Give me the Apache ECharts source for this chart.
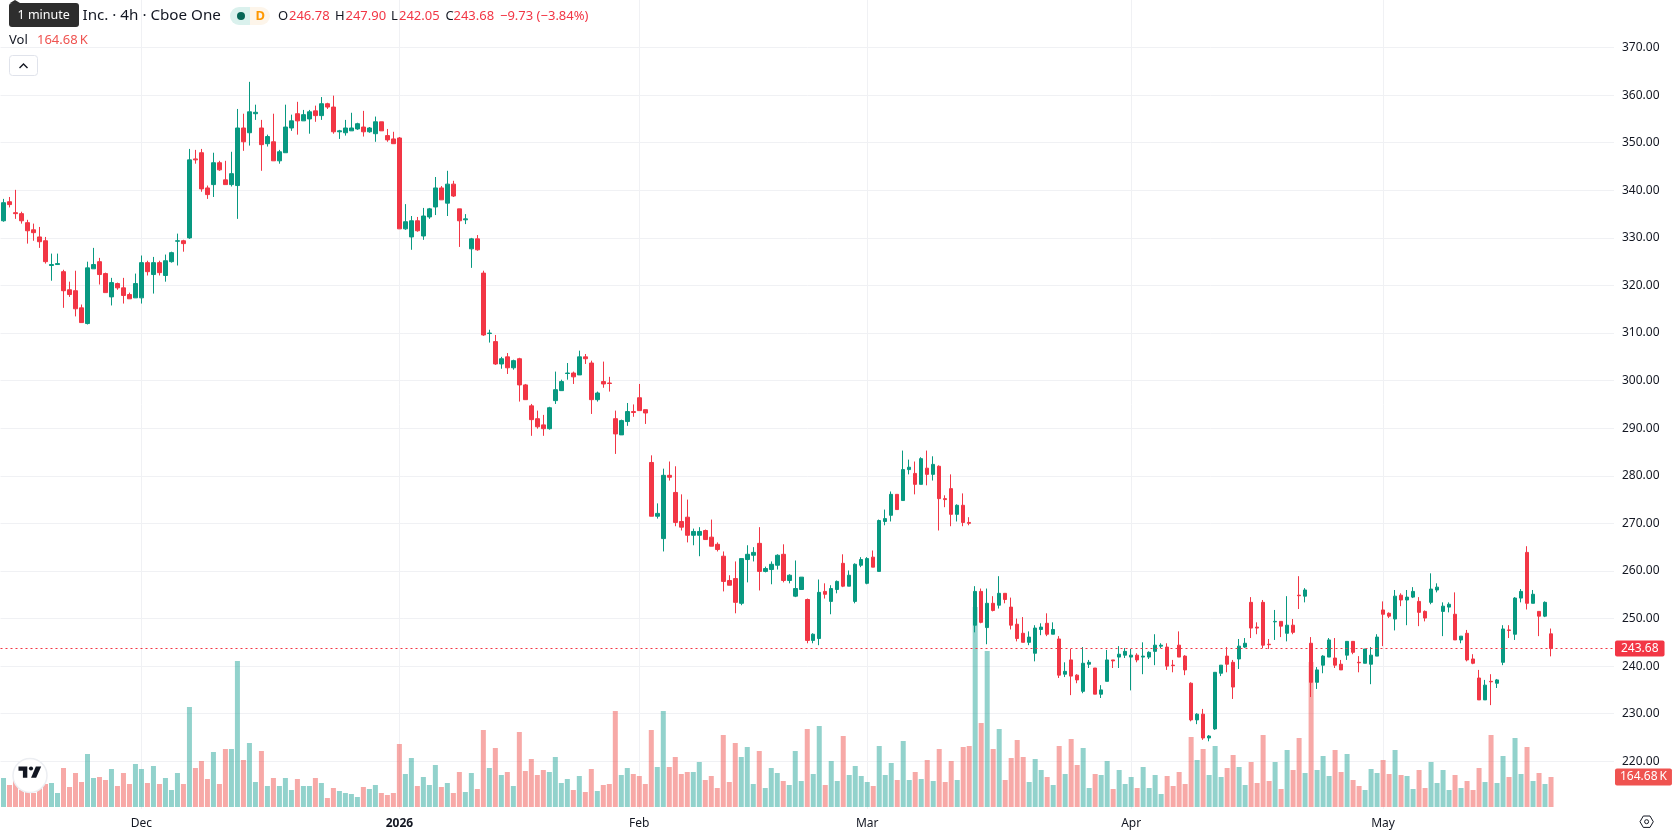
<!DOCTYPE html>
<html>
<head>
<meta charset="utf-8">
<title>Cboe One 4h</title>
<script src="https://cdn.jsdelivr.net/npm/echarts@6/dist/echarts.min.js"></script>
<style>
html,body{margin:0;padding:0;background:#fff;overflow:hidden}
#chart{width:1678px;height:835px}
</style>
</head>
<body>
<div id="chart"></div>
<script>
// Session prices, one entry per 4h bar
const opens = [
333.6,337.6,335.3,335.1,333.2,331.7,330.2,329.4,324.2,324.4,
322.9,319.1,318.9,315.3,312.0,323.5,325.0,322.5,317.6,320.4,
319.5,318.1,317.4,317.4,324.8,322.3,324.8,322.1,325.0,329.3,
329.4,330.0,346.6,347.9,340.5,341.2,345.8,342.2,341.2,341.0,
353.1,352.1,356.1,353.1,349.8,350.2,346.2,347.9,353.1,356.1,
354.6,355.0,356.7,355.7,358.2,357.5,352.3,352.1,352.5,352.9,
353.3,352.3,351.9,354.4,351.5,350.8,351.0,331.9,330.2,333.6,
330.4,334.4,336.5,340.5,337.3,341.3,336.1,333.8,327.7,329.8,
322.6,309.9,308.2,303.5,305.0,302.7,304.6,299.1,294.7,292.0,
290.7,289.9,295.8,297.9,301.5,301.6,301.2,305.0,303.7,296.0,
299.8,299.5,292.0,288.6,291.4,293.5,296.4,293.9,282.8,271.5,
266.8,280.1,276.5,270.4,271.3,267.5,267.5,268.5,267.1,265.6,
263.1,258.0,258.4,253.2,262.4,263.3,265.8,259.9,260.3,261.2,
263.5,258.0,254.7,256.1,254.0,245.4,245.8,255.7,253.6,256.1,
261.6,256.8,253.6,261.2,257.4,262.9,259.9,270.4,271.7,276.1,
274.8,281.3,280.5,278.2,281.6,280.3,282.0,275.2,277.3,271.9,
273.8,270.2,248.6,255.7,248.1,253.2,252.8,255.3,252.4,248.8,
246.9,245.0,242.7,247.7,249.0,246.7,245.7,238.3,241.3,238.1,
234.7,240.4,239.6,234.1,236.8,241.3,241.9,242.3,241.9,242.3,
241.9,241.9,243.1,244.2,244.0,240.2,244.4,242.1,236.4,228.7,
229.9,224.9,226.8,238.5,242.1,240.8,241.5,244.0,253.4,248.2,
253.4,244.6,249.3,249.4,246.9,248.6,254.9,254.7,244.8,236.6,
240.2,241.9,241.7,240.4,242.3,245.2,240.8,240.6,240.4,242.1,
251.8,251.1,249.9,254.9,253.9,254.5,253.6,251.5,253.4,256.0,
251.5,252.4,250.9,245.5,246.9,241.5,237.5,232.9,236.8,236.4,
240.8,247.6,246.7,254.3,263.9,253.2,251.5,250.5,246.78
];
const closes = [
337.4,337.0,335.1,333.6,331.5,331.1,329.2,325.0,324.4,324.6,
318.9,318.1,315.1,312.2,323.7,324.4,322.3,318.5,320.6,319.5,
317.9,317.2,320.4,324.8,322.9,324.8,322.7,325.2,326.9,329.4,
328.8,346.4,346.4,340.3,339.1,345.8,344.3,341.2,343.5,353.1,
350.2,356.5,356.4,349.6,351.3,346.2,348.1,353.3,354.6,354.6,
355.9,356.5,355.7,358.2,357.5,352.3,352.5,353.1,353.1,354.0,
352.3,353.1,354.4,352.5,350.6,349.8,331.9,333.4,333.6,331.5,
334.6,336.1,340.5,338.0,341.3,338.8,333.6,334.0,329.8,327.5,
309.6,310.0,303.5,304.6,302.7,304.2,299.1,296.0,291.8,290.3,
289.9,294.3,298.1,299.8,301.6,300.8,305.0,304.6,296.0,297.4,
299.3,299.4,288.8,291.6,293.5,293.3,293.7,293.2,271.5,272.1,
280.1,279.7,270.2,269.2,267.5,268.3,268.3,266.6,265.2,264.5,
257.8,257.0,253.4,262.6,263.5,263.9,259.9,260.5,261.4,263.3,
258.0,259.1,256.3,258.7,245.4,246.7,255.5,255.1,256.3,257.8,
256.8,259.1,261.4,262.4,262.6,260.8,270.6,271.0,276.1,272.9,
281.3,281.8,278.2,283.6,280.3,282.4,275.2,275.0,271.9,273.8,
270.2,270.0,255.7,249.2,253.2,251.7,255.3,254.0,248.6,245.8,
245.0,246.1,248.0,248.2,246.7,247.7,238.1,238.9,237.9,237.1,
240.6,240.8,234.1,235.0,241.3,241.1,242.5,243.1,242.3,241.3,
242.1,242.9,244.4,244.4,240.0,240.1,241.9,239.2,228.7,229.9,
224.9,225.3,238.7,240.2,240.4,235.6,244.2,244.8,248.0,248.0,
244.4,244.5,249.4,248.4,248.6,247.1,254.8,256.0,236.6,239.2,
242.1,245.5,240.2,239.2,245.2,242.9,240.7,243.6,242.3,246.1,
250.9,250.5,254.7,253.9,254.5,255.7,251.3,250.1,256.2,256.6,
252.6,253.0,245.5,246.3,241.3,240.6,232.9,236.0,236.7,237.1,
247.8,247.5,254.3,255.7,253.2,255.1,250.5,253.4,243.68
];
const highs = [
338.2,338.6,340.1,335.5,333.8,333.0,332.3,330.2,326.7,326.7,
323.3,320.8,323.1,316.0,325.0,327.9,325.8,322.7,321.6,320.6,
321.6,318.5,322.5,326.3,325.2,326.0,325.2,326.5,327.1,330.9,
329.6,348.7,348.5,348.7,341.0,347.9,346.2,346.2,348.1,357.1,
356.1,362.8,358.0,354.8,351.7,356.1,348.5,358.0,355.9,358.6,
356.9,356.9,357.8,359.6,358.4,359.9,352.7,354.8,356.3,354.2,
356.7,353.3,355.5,354.4,352.9,352.3,351.2,337.1,334.6,334.4,
336.3,336.3,342.8,340.9,344.1,342.0,336.1,335.0,330.0,330.6,
323.1,310.7,309.6,305.0,305.8,304.4,304.8,299.3,295.1,293.7,
292.8,294.5,301.9,300.2,303.7,301.9,306.3,305.6,304.2,297.7,
304.0,300.8,293.7,291.8,295.3,295.0,299.3,293.9,284.3,274.2,
281.5,283.0,282.0,276.1,275.0,268.9,269.2,268.7,270.8,266.0,
264.1,259.1,262.0,262.6,265.4,265.0,269.2,260.9,262.0,263.5,
265.6,259.3,262.2,258.7,254.2,246.9,258.2,257.4,257.0,258.0,
263.5,260.1,261.6,262.9,262.9,264.3,270.8,272.9,276.7,276.1,
285.3,283.4,283.0,283.9,285.3,284.1,282.2,275.9,280.3,274.0,
276.3,271.3,256.8,256.3,256.3,254.7,258.9,255.3,254.4,250.0,
250.3,247.3,248.6,249.0,251.1,249.2,246.3,240.8,243.6,238.3,
244.0,241.3,239.6,236.0,243.4,241.3,244.2,243.8,243.6,242.7,
245.0,243.1,246.7,244.8,244.8,241.3,247.3,242.3,236.6,230.1,
231.0,225.5,238.7,240.2,244.0,241.3,245.7,245.9,254.5,249.2,
253.9,245.7,251.8,249.4,254.7,249.9,258.9,256.4,246.1,239.8,
242.3,245.9,245.9,241.3,245.2,245.2,242.1,243.6,244.0,246.7,
253.6,251.3,256.0,255.3,256.0,256.6,254.5,251.7,259.5,257.4,
253.4,253.4,255.5,246.3,247.6,242.5,239.2,237.1,238.3,237.3,
248.6,248.6,254.5,256.2,265.2,256.0,251.5,253.6,247.90
];
const lows = [
333.4,336.4,334.0,333.0,328.8,329.4,327.9,324.6,321.0,324.4,
315.3,317.6,313.5,312.2,311.8,323.5,320.2,318.5,315.8,319.1,
316.2,317.2,317.4,316.2,322.1,318.3,322.1,320.8,324.8,324.2,
327.1,329.8,345.6,339.7,338.2,338.6,344.1,341.2,340.8,334.0,
348.3,349.4,354.8,344.1,349.2,346.2,345.6,347.9,352.5,351.7,
354.6,351.9,354.4,354.8,357.1,351.9,350.8,351.5,352.5,352.7,
351.3,352.1,350.2,352.5,350.2,349.8,331.9,331.7,327.5,331.3,
329.6,334.0,334.8,338.0,334.6,338.6,328.1,332.9,323.7,327.3,
309.4,308.0,303.3,302.5,301.4,302.3,295.6,296.0,288.4,289.9,
288.4,289.7,295.1,297.9,300.2,299.3,301.2,303.5,293.0,295.6,
298.5,297.7,284.6,288.6,290.5,292.4,293.7,290.9,271.5,271.0,
264.1,279.0,269.4,268.5,266.0,265.4,263.1,266.6,265.2,264.1,
255.7,257.0,251.1,252.8,257.6,262.0,255.9,259.7,257.2,260.3,
257.6,257.4,254.5,256.1,244.8,244.8,244.4,254.2,250.9,255.3,
256.6,256.8,253.2,260.8,257.2,260.8,259.9,269.6,270.4,272.9,
274.8,280.3,276.1,278.2,278.0,279.0,268.5,273.4,269.4,270.4,
269.4,269.6,247.1,249.0,244.6,251.5,252.1,253.2,247.7,245.2,
245.0,244.4,241.0,246.5,246.3,246.7,237.5,237.7,233.9,236.4,
234.3,239.6,234.1,233.3,236.8,239.6,239.6,241.7,234.9,240.8,
238.3,241.5,240.2,243.8,239.2,238.7,241.9,238.1,228.4,227.8,
224.5,224.2,226.6,237.9,238.7,233.1,239.4,243.8,245.9,246.7,
243.8,243.6,245.5,246.1,245.2,246.7,252.0,253.4,233.5,235.2,
238.5,241.9,239.6,239.2,241.3,242.5,238.7,240.6,236.2,242.1,
244.2,250.1,247.5,252.6,248.6,254.3,248.4,249.4,253.0,255.5,
246.3,251.3,245.5,244.8,241.0,240.4,232.9,232.9,231.8,235.4,
240.2,245.9,245.5,253.4,251.9,253.2,246.3,250.3,242.05
];
// Traded volume per bar, in thousands of shares
const volumes = [
159.2,120.8,148.2,93.3,82.4,76.9,109.8,126.3,131.8,76.9,
214.1,109.8,186.7,137.3,291.0,159.2,164.7,148.2,208.6,115.3,
186.7,126.3,236.1,208.6,131.8,225.1,126.3,159.2,93.3,186.7,
126.3,549.0,214.1,252.5,153.7,302.0,126.3,318.4,318.4,801.5,
258.0,351.4,137.3,307.4,115.3,159.2,115.3,159.2,93.3,153.7,
115.3,115.3,159.2,131.8,49.4,104.3,87.8,76.9,71.4,54.9,
109.8,98.8,120.8,76.9,65.9,76.9,345.9,181.2,269.0,115.3,
164.7,120.8,230.6,109.8,131.8,76.9,192.2,82.4,186.7,98.8,
422.7,214.1,323.9,175.7,192.2,115.3,411.8,197.6,263.5,175.7,
203.1,192.2,274.5,131.8,153.7,93.3,170.2,82.4,208.6,87.8,
120.8,126.3,527.0,175.7,214.1,181.2,170.2,126.3,422.7,219.6,
527.0,219.6,274.5,181.2,192.2,192.2,247.1,148.2,170.2,104.3,
395.3,137.3,351.4,274.5,329.4,126.3,307.4,104.3,214.1,186.7,
142.7,120.8,307.4,142.7,428.2,181.2,444.7,120.8,252.5,142.7,
389.8,175.7,225.1,170.2,137.3,115.3,334.9,175.7,241.6,148.2,
362.3,148.2,192.2,153.7,258.0,142.7,318.4,137.3,252.5,148.2,
329.4,334.9,1098.0,461.2,856.4,318.4,428.2,148.2,269.0,367.8,
274.5,137.3,263.5,203.1,164.7,120.8,334.9,181.2,373.3,230.6,
323.9,104.3,181.2,175.7,252.5,98.8,203.1,126.3,164.7,104.3,
219.6,104.3,175.7,71.4,170.2,115.3,192.2,126.3,384.3,258.0,
318.4,175.7,334.9,164.7,214.1,285.5,219.6,120.8,247.1,131.8,
395.3,142.7,247.1,98.8,312.9,203.1,378.8,186.7,796.0,203.1,
280.0,170.2,312.9,192.2,291.0,148.2,115.3,93.3,208.6,186.7,
258.0,181.2,312.9,175.7,170.2,98.8,203.1,104.3,247.1,131.8,
203.1,93.3,175.7,104.3,142.7,93.3,214.1,137.3,395.3,131.8,
280.0,164.7,378.8,181.2,329.4,142.7,186.7,126.3,164.68
];
// Time-scale labels, keyed by the bar they sit on
const timeLabelBars = [23, 66, 106, 144, 188, 230];
const timeLabelTexts = ['Dec', '2026', 'Feb', 'Mar', 'Apr', 'May'];
const emptyBarsOnRight = 10;
const lastPrice = 243.68;
const lastVolume = 164.68;
const priceMin = 210, priceMax = 380, priceStep = 10;
const volumeAxisMax = 4430;

const UP = '#089981', DOWN = '#F23645';
const VOL_UP = '#26a69a', VOL_DOWN = '#ef5350';
const GRID_LINE = '#f0f1f4';
const TEXT = '#131722';
const FONT = '"Noto Sans", sans-serif';

const barCount = opens.length + emptyBarsOnRight;
const categories = Array.from({length: barCount}, (_, i) => {
  const at = timeLabelBars.indexOf(i);
  return at >= 0 ? timeLabelTexts[at] : 'bar' + i;
});
const isTimeLabel = (index) => timeLabelBars.includes(index);

const candleData = opens.map((o, i) => [o, closes[i], lows[i], highs[i]]);
const volumeData = volumes.map((v, i) => ({
  value: v,
  itemStyle: {color: closes[i] >= opens[i] ? VOL_UP : VOL_DOWN, opacity: 0.5}
}));

const txt = (x, y, text, fill, size, extra) => ({
  type: 'text', x, y, z: 50, silent: true,
  style: Object.assign({text, fill, font: `${size || 13}px ${FONT}`, verticalAlign: 'middle'}, extra || {})
});

const header = [
  txt(82.5, 16, 'Inc. · 4h · Cboe One', TEXT, 15.2),
  {type: 'rect', z: 50, silent: true, shape: {x: 230, y: 7, width: 20, height: 18, r: [9, 0, 0, 9]}, style: {fill: '#daf1ed'}},
  {type: 'rect', z: 50, silent: true, shape: {x: 250, y: 7, width: 20, height: 18, r: [0, 9, 9, 0]}, style: {fill: '#fdf5ea'}},
  {type: 'circle', z: 51, silent: true, shape: {cx: 241, cy: 16, r: 4}, style: {fill: '#056656'}},
  txt(255.5, 16.5, 'D', '#ff9800', 13, {font: `bold 13px ${FONT}`}),
  txt(278, 16.5, 'O', TEXT), txt(289, 16.5, '246.78', DOWN),
  txt(335, 16.5, 'H', TEXT), txt(345.5, 16.5, '247.90', DOWN),
  txt(391, 16.5, 'L', TEXT), txt(399, 16.5, '242.05', DOWN),
  txt(445.5, 16.5, 'C', TEXT), txt(453.5, 16.5, '243.68', DOWN),
  txt(500, 16.5, '−9.73 (−3.84%)', DOWN),
  txt(9, 40.5, 'Vol', TEXT),
  txt(37, 40.5, '164.68\u2009K', VOL_DOWN),
  {type: 'rect', z: 50, silent: true, shape: {x: 9.5, y: 55.5, width: 28, height: 20, r: 3}, style: {fill: '#fff', stroke: '#e0e3eb', lineWidth: 1}},
  {type: 'polyline', z: 51, silent: true, shape: {points: [[19.5, 68], [23.5, 64], [27.5, 68]]}, style: {stroke: TEXT, lineWidth: 1.4, fill: null}},
  {type: 'polygon', z: 52, silent: true, shape: {points: [[10, 3], [15, 0], [20, 3]]}, style: {fill: '#2e2e2e'}},
  {type: 'rect', z: 52, silent: true, shape: {x: 9, y: 3, width: 70, height: 24, r: 3}, style: {fill: '#2e2e2e'}},
  Object.assign(txt(17.5, 15.5, '1 minute', '#ffffff', 12.5), {z: 53})
];

// Round badge with the platform's mark, composed of two polygons and a dot
const logoPoint = (px, py) => [18.5 + px * 0.63, 762 + py * 0.63];
const branding = [
  {type: 'circle', z: 50, silent: true, shape: {cx: 30, cy: 775.5, r: 17}, style: {fill: '#fff', stroke: '#eceef2', lineWidth: 1.5}},
  {type: 'polygon', z: 51, silent: true,
    shape: {points: [[0, 7], [14, 7], [14, 25], [7, 25], [7, 14], [0, 14]].map(p => logoPoint(p[0], p[1]))}, style: {fill: '#131722'}},
  {type: 'polygon', z: 51, silent: true,
    shape: {points: [[20, 25], [27.5, 7], [36, 7], [28, 25]].map(p => logoPoint(p[0], p[1]))}, style: {fill: '#131722'}},
  {type: 'circle', z: 51, silent: true, shape: {cx: 31, cy: 768.5, r: 2.1}, style: {fill: '#131722'}}
];

const settingsIcon = [
  {type: 'polygon', z: 50, silent: true,
    shape: {points: [[1640, 821.7], [1643.3, 816], [1650, 816], [1653.3, 821.7], [1650, 827.4], [1643.3, 827.4]]},
    style: {fill: 'none', stroke: TEXT, lineWidth: 1}},
  {type: 'circle', z: 50, silent: true, shape: {cx: 1646.6, cy: 821.7, r: 2}, style: {fill: 'none', stroke: TEXT, lineWidth: 1}}
];

const chart = echarts.init(document.getElementById('chart'), null, {renderer: 'canvas'});
chart.setOption({
  animation: false,
  backgroundColor: '#ffffff',
  textStyle: {fontFamily: FONT},
  graphic: {elements: [...header, ...branding, ...settingsIcon]},
  grid: [
    {left: 0.5, width: 1614 - 0.5, top: -1.15, height: 810, containLabel: false},
    {left: 0.5, width: 1614 - 0.5, top: 0, height: 807, containLabel: false}
  ],
  xAxis: [
    {
      type: 'category', gridIndex: 0, data: categories, boundaryGap: true,
      axisLine: {show: false},
      axisTick: {show: false},
      axisLabel: {
        show: true, interval: isTimeLabel, margin: 9, fontSize: 12, color: TEXT, fontFamily: FONT,
        hideOverlap: false,
        formatter: (v) => v === '2026' ? '{year|2026}' : v,
        rich: {year: {fontWeight: 'bold', fontSize: 12, color: TEXT, fontFamily: FONT}}
      },
      splitLine: {show: true, interval: isTimeLabel, alignWithLabel: true, lineStyle: {color: GRID_LINE, width: 1}}
    },
    {type: 'category', gridIndex: 1, data: categories, boundaryGap: true, show: false}
  ],
  yAxis: [
    {
      type: 'value', gridIndex: 0, position: 'right', min: priceMin, max: priceMax, interval: priceStep,
      axisLine: {show: false}, axisTick: {show: false},
      axisLabel: {
        margin: 8, fontSize: 12, color: TEXT, fontFamily: FONT, padding: [0, 0, 2, 0],
        showMinLabel: false, showMaxLabel: false,
        formatter: (v) => v.toFixed(2)
      },
      splitLine: {show: true, showMinLine: false, showMaxLine: false, lineStyle: {color: GRID_LINE, width: 1}}
    },
    {type: 'value', gridIndex: 1, min: 0, max: volumeAxisMax, show: false}
  ],
  series: [
    {
      name: 'Vol', type: 'bar', xAxisIndex: 1, yAxisIndex: 1, data: volumeData, barWidth: 5, z: 2, silent: true,
      markLine: {
        silent: true, symbol: 'none', animation: false,
        lineStyle: {color: 'rgba(0,0,0,0)', width: 0},
        data: [{yAxis: lastVolume}],
        label: {
          show: true, position: 'end', distance: 1, formatter: '164.68\u2009K',
          color: '#fff', backgroundColor: VOL_DOWN, padding: [3, 5, 2, 5], borderRadius: 2,
          fontSize: 12, fontFamily: FONT
        }
      }
    },
    {
      name: 'Price', type: 'candlestick', data: candleData, barWidth: 4, z: 5, silent: true,
      itemStyle: {color: UP, color0: DOWN, borderColor: UP, borderColor0: DOWN, borderWidth: 1},
      markLine: {
        silent: true, symbol: 'none', animation: false, z: 6,
        lineStyle: {color: DOWN, type: [2, 3], width: 1},
        data: [{yAxis: lastPrice}],
        label: {
          show: true, position: 'end', distance: 1, formatter: lastPrice.toFixed(2),
          color: '#fff', backgroundColor: DOWN, padding: [2, 6, 2, 6], borderRadius: 2,
          fontSize: 12, fontFamily: FONT
        }
      }
    }
  ]
});
</script>
</body>
</html>
